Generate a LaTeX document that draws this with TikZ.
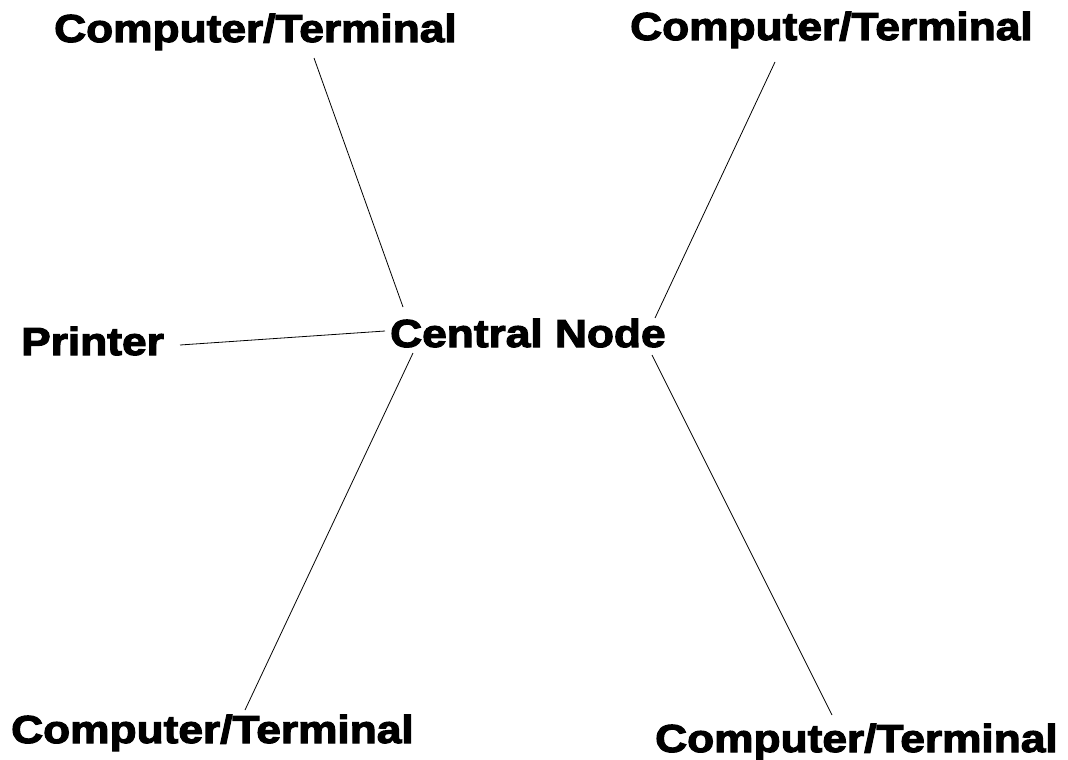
\documentclass[tikz,border=0pt]{standalone}
\usepackage{fontspec}
\newfontfamily\blk{Liberation Sans Bold}[FakeBold=3,FakeStretch=1.135]
\begin{document}
\begin{tikzpicture}[x=1pt,y=-1pt,
  lbl/.style={anchor=base west,inner sep=0pt,font=\blk\fontsize{39}{39}\selectfont},
  link/.style={line width=0.8pt,black}]
\useasboundingbox (0,0) rectangle (1068,760);
\node[lbl] (tl) at (54,42) {Computer/Terminal};
\node[lbl] (tr) at (630,40) {Computer/Terminal};
\node[lbl] (pr) at (21,355) {Printer};
\node[lbl] (cn) at (390,347) {Central Node};
\node[lbl] (bl) at (11,743) {Computer/Terminal};
\node[lbl] (br) at (655,752) {Computer/Terminal};
\coordinate (tlA) at (314,58);  \coordinate (tlB) at (403,307);
\coordinate (trA) at (775,62);  \coordinate (trB) at (655,318);
\coordinate (prA) at (180,345); \coordinate (prB) at (385,331);
\coordinate (blA) at (245,710); \coordinate (blB) at (413,353);
\coordinate (brA) at (832,715); \coordinate (brB) at (652,355);
\draw[link] (tlA) -- (tlB);
\draw[link] (trA) -- (trB);
\draw[link] (prA) -- (prB);
\draw[link] (blB) -- (blA);
\draw[link] (brB) -- (brA);
\end{tikzpicture}
\end{document}
